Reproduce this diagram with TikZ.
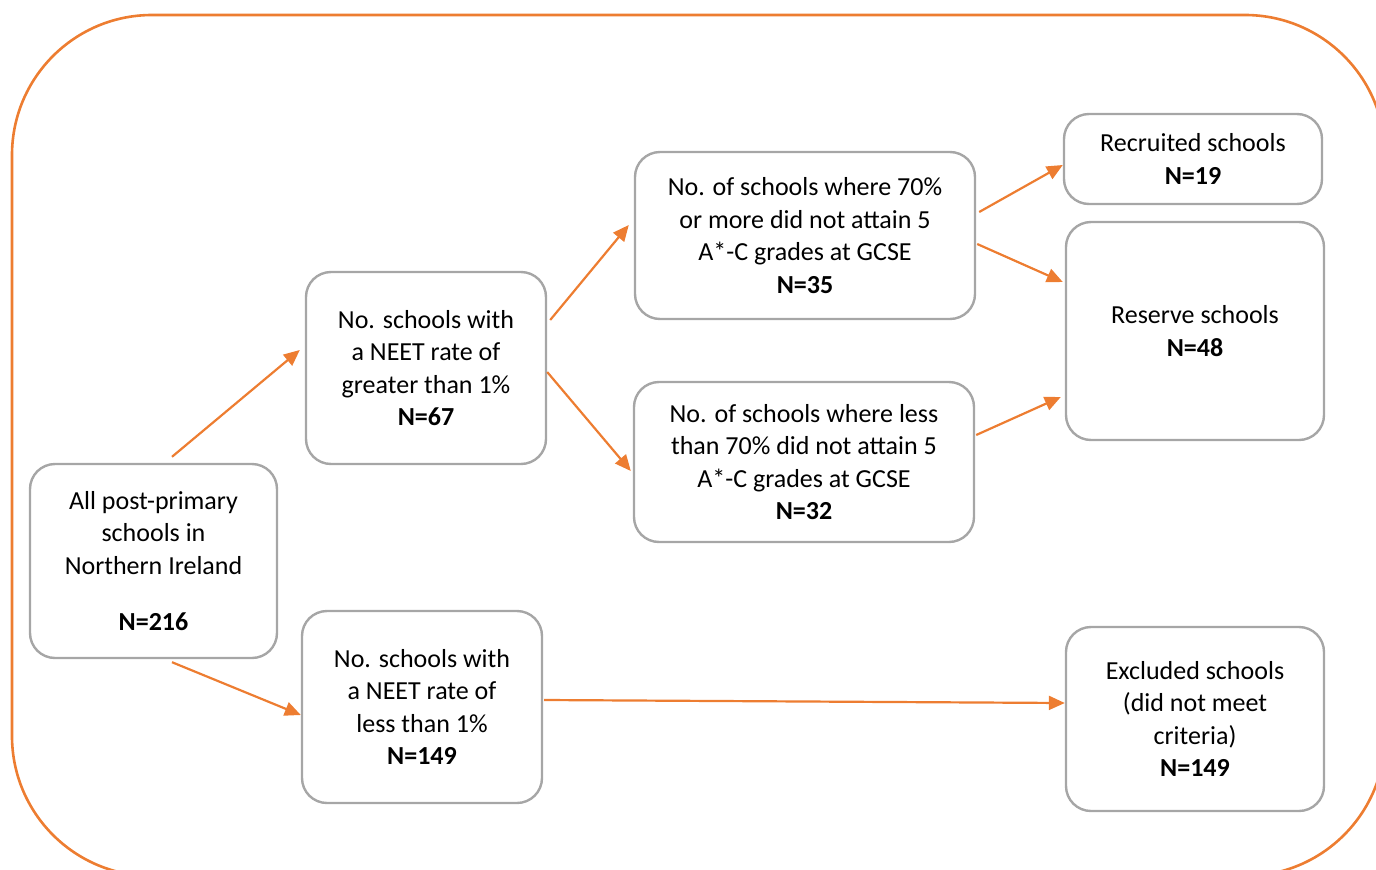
\documentclass[tikz,border=0pt]{standalone}
\usepackage{fontspec}
\setmainfont{Carlito}
\usetikzlibrary{arrows.meta}
\definecolor{frameorange}{RGB}{237,125,49}
\definecolor{boxgrey}{RGB}{166,166,166}

\begin{document}
\begin{tikzpicture}[x=1pt,y=-1pt,
    box/.style={draw=boxgrey,line width=2.4pt,rounded corners=25pt,align=center,
      font=\fontsize{26}{32.5}\selectfont,inner sep=0pt},
    link/.style={draw=frameorange,line width=2.2pt,-{Triangle[length=16pt,width=14pt]}}]
  \clip (0,0) rectangle (1376,870);
  % -=-=-=-=- OUTER FRAME -=-=-=-=-
  \draw[frameorange,line width=2.6pt,rounded corners=140pt] (12,15) rectangle (1385,876);

  % -=-=-=-=- BOXES -=-=-=-=-
  \node[box,minimum width=247pt,minimum height=194pt] (all) at (153.5,561)
    {All post-primary\\schools in\\Northern Ireland\\[23.5pt]\textbf{N=216}};
  \node[box,minimum width=240pt,minimum height=192pt] (high) at (426,368)
    {No. schools with\\a NEET rate of\\greater than 1\%\\\textbf{N=67}};
  \node[box,minimum width=240pt,minimum height=192pt] (low) at (422,707)
    {No. schools with\\a NEET rate of\\less than 1\%\\\textbf{N=149}};
  \node[box,minimum width=340pt,minimum height=167pt] (more) at (805,235.5)
    {No. of schools where 70\%\\or more did not attain 5\\A*-C grades at GCSE\\\textbf{N=35}};
  \node[box,minimum width=340pt,minimum height=160pt] (less) at (804,462)
    {No. of schools where less\\than 70\% did not attain 5\\A*-C grades at GCSE\\\textbf{N=32}};
  \node[box,minimum width=258pt,minimum height=90pt] (recruit) at (1193,159)
    {Recruited schools\\\textbf{N=19}};
  \node[box,minimum width=258pt,minimum height=218pt] (reserve) at (1195,331)
    {Reserve schools\\\textbf{N=48}};
  \node[box,minimum width=258pt,minimum height=184pt] (excl) at (1195,719)
    {Excluded schools\\(did not meet\\criteria)\\\textbf{N=149}};

  % -=-=-=-=- ARROWS -=-=-=-=-
  \draw[link] ([xshift=18.5pt,yshift=6pt]all.north) -- ([xshift=-5pt,yshift=18pt]high.west);
  \draw[link] ([xshift=18.5pt,yshift=-3pt]all.south) -- ([yshift=-8pt]low.west);
  \draw[link] ([xshift=3pt,yshift=48pt]high.east) -- ([xshift=-5pt,yshift=10.5pt]more.west);
  \draw[link] ([yshift=-4pt]high.east) -- ([xshift=-2pt,yshift=-9pt]less.west);
  \draw[link] ([xshift=3pt,yshift=23.5pt]more.east) -- ([yshift=-6pt]recruit.west);
  \draw[link] ([xshift=1pt,yshift=-8.5pt]more.east) -- ([xshift=-2pt,yshift=49pt]reserve.west);
  \draw[link] ([xshift=1pt,yshift=27pt]less.east) -- ([xshift=-4pt,yshift=-66pt]reserve.west);
  \draw[link] ([xshift=1pt,yshift=7pt]low.east) -- ([yshift=16pt]excl.west);
\end{tikzpicture}
\end{document}
